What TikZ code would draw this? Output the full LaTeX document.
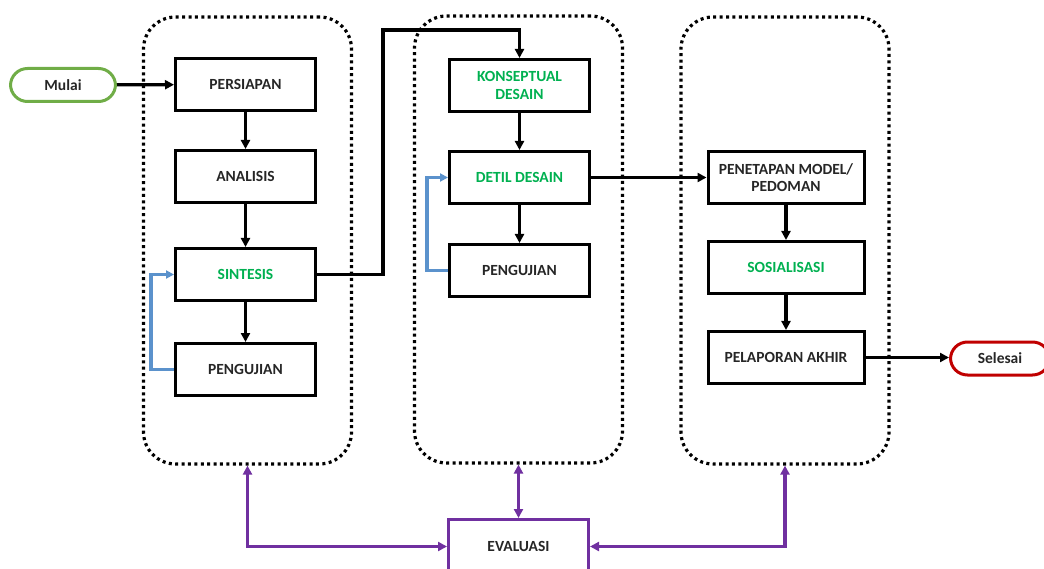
\documentclass[tikz,border=0pt]{standalone}
\usepackage{fontspec}
\setmainfont{Carlito}
\usetikzlibrary{arrows.meta, positioning, calc}

\definecolor{hijau}{RGB}{0,176,80}
\definecolor{hijaumuda}{RGB}{112,173,71}
\definecolor{merah}{RGB}{192,0,0}
\definecolor{biru}{RGB}{91,146,204}
\definecolor{ungu}{RGB}{112,48,160}

\tikzset{
  proses/.style={rectangle, draw=black, line width=3pt, minimum width=140pt, minimum height=52pt, align=center, text=black!85, font=\fontsize{15.5}{17.5}\selectfont\bfseries},
  ujung/.style={rectangle, rounded corners=17pt, line width=3pt, minimum width=105pt, minimum height=33pt, text=black!85, font=\fontsize{15.5}{17.5}\selectfont\bfseries},
  grup/.style={rectangle, draw=black, rounded corners=32pt, line width=3.2pt, dash pattern=on 3pt off 3.4pt, minimum width=208pt, minimum height=447pt},
  panah/.style={-{Triangle[length=9pt,width=9pt]}, line width=3.2pt, black},
  umpan/.style={-{Triangle[length=8pt,width=8pt]}, line width=3.4pt, biru},
  evalpanah/.style={{Triangle[length=9pt,width=9pt]}-{Triangle[length=9pt,width=9pt]}, line width=3.4pt, ungu}
}

\begin{document}
\begin{tikzpicture}[x=1pt, y=-1pt]
  \useasboundingbox (0,0) rectangle (1044,569);
  % kelompok tahapan
\node[grup] (tahap1) at (247.5,240.5) {};
\node[grup] (tahap2) at (518.5,239.5) {};
\node[grup] (tahap3) at (785,240.5) {};
  % tahap pertama
\node[proses] (persiapan) at (245.5,84.5) {PERSIAPAN};
\node[proses, below=37pt of persiapan] (analisis) {ANALISIS};
\node[proses, below=43pt of analisis, text=hijau] (sintesis) {SINTESIS};
\node[proses, below=40pt of sintesis] (uji1) {PENGUJIAN};
\node[ujung, draw=hijaumuda] (mulai) at (63,85) {Mulai};
  % tahap kedua
\node[proses, text=hijau] (konseptual) at (519.5,85.5) {KONSEPTUAL\\DESAIN};
\node[proses, below=37pt of konseptual, text=hijau] (detil) {DETIL DESAIN};
\node[proses, below=38pt of detil] (uji2) {PENGUJIAN};
  % tahap ketiga
\node[proses, minimum width=156pt] (penetapan) at (786,177.5) {PENETAPAN MODEL/\\PEDOMAN};
\node[proses, minimum width=156pt, below=35pt of penetapan, text=hijau] (sosialisasi) {SOSIALISASI};
\node[proses, minimum width=156pt, below=35pt of sosialisasi] (pelaporan) {PELAPORAN AKHIR};
\node[ujung, draw=merah, minimum width=99pt] (selesai) at (1000,358.5) {Selesai};
  % evaluasi
\node[proses, draw=ungu, minimum width=140pt, minimum height=54pt] (evaluasi) at (518.5,546.5) {EVALUASI};
\coordinate (belok) at (383,30);

\draw[panah] (mulai) -- (persiapan);
\draw[panah] (persiapan) -- (analisis);
\draw[panah] (analisis) -- (sintesis);
\draw[panah] (sintesis) -- (uji1);
\draw[panah] (sintesis.east) -| (belok) -| (konseptual.north);
\draw[panah] (konseptual) -- (detil);
\draw[panah] (detil) -- (uji2);
\draw[panah] (detil) -- (penetapan);
\draw[panah] (penetapan) -- (sosialisasi);
\draw[panah] (sosialisasi) -- (pelaporan);
\draw[panah] (pelaporan.east) -- (pelaporan.east -| selesai.west);
\draw[umpan] (uji1.west) -- ++(-23,0) |- (sintesis.west);
\draw[umpan] (uji2.west) -- ++(-21,0) |- (detil.west);
\draw[evalpanah] (tahap1.south) |- (evaluasi.west);
\draw[evalpanah] (tahap2.south) -- (evaluasi.north);
\draw[evalpanah] (tahap3.south) |- (evaluasi.east);
\end{tikzpicture}
\end{document}
